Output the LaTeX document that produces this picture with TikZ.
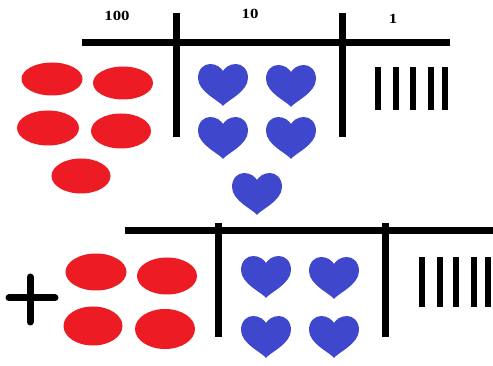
\documentclass[tikz,border=0pt]{standalone}
\usepackage{fontspec}
\setmainfont{Liberation Serif}
\definecolor{pred}{RGB}{237,28,36}
\definecolor{pblue}{RGB}{63,72,204}
\tikzset{
  x=1pt, y=-1pt,
  bar/.style={line width=7pt, black},
  tally/.style={line width=6pt, black},
  lbl/.style={font=\fontsize{14}{14}\selectfont\bfseries, inner sep=0pt, xscale=1.2},
  heart/.pic={
    \fill[pblue] (0,22) .. controls (-3,17) and (-25,8) .. (-25,-6)
      .. controls (-25,-15) and (-19,-20) .. (-13,-20)
      .. controls (-6,-20) and (-2,-16) .. (0,-13)
      .. controls (2,-16) and (6,-20) .. (13,-20)
      .. controls (19,-20) and (25,-15) .. (25,-6)
      .. controls (25,8) and (3,17) .. (0,22) -- cycle;
  },
  redel/.style={fill=pred}
}
\begin{document}
\begin{tikzpicture}
\useasboundingbox (0,0) rectangle (493,366);
\fill[white] (0,0) rectangle (493,366);
% ---------- top chart ----------
\coordinate (th1) at (82,43);
\coordinate (th2) at (450,43);
\coordinate (tv1a) at (176,13);
\coordinate (tv1b) at (176,137);
\coordinate (tv2a) at (342,13);
\coordinate (tv2b) at (342,137);
\draw[bar] (th1) -- (th2);
\draw[bar] (tv1a) -- (tv1b);
\draw[bar] (tv2a) -- (tv2b);
\node[lbl] (l100) at (117,16) {100};
\node[lbl] (l10) at (250,14) {10};
\node[lbl] (l1) at (393,19) {1};
% red ellipses
\fill[redel] (52,79) ellipse [x radius=30.5, y radius=16.5];
\fill[redel] (123,83) ellipse [x radius=30, y radius=16.5];
\fill[redel] (48,128) ellipse [x radius=31, y radius=17.5];
\fill[redel] (121,131) ellipse [x radius=30, y radius=17.5];
\fill[redel] (81,176) ellipse [x radius=29.5, y radius=17.5];
% hearts
\pic at (223,84) {heart};
\pic at (291,85) {heart};
\pic at (223,137) {heart};
\pic at (291,137) {heart};
\pic at (257,193) {heart};
% tallies
\foreach \x in {378,396,413,431,445} \draw[tally] (\x,67) -- (\x,110);
% ---------- bottom chart ----------
\coordinate (bh1) at (125,231);
\coordinate (bh2) at (493,231);
\coordinate (bv1a) at (218,223);
\coordinate (bv1b) at (218,337);
\coordinate (bv2a) at (385,223);
\coordinate (bv2b) at (385,337);
\draw[bar] (bh1) -- (bh2);
\draw[bar] (bv1a) -- (bv1b);
\draw[bar] (bv2a) -- (bv2b);
% plus
\coordinate (pl) at (9,298);
\coordinate (pr) at (55,298);
\coordinate (pt) at (30,277);
\coordinate (pb) at (30,322);
\draw[bar, line cap=round] (pl) -- (pr);
\draw[bar, line cap=round] (pt) -- (pb);
% red ellipses
\fill[redel] (96,272) ellipse [x radius=30.5, y radius=18.5];
\fill[redel] (167,276) ellipse [x radius=30, y radius=18.5];
\fill[redel] (93,326) ellipse [x radius=29.5, y radius=19.5];
\fill[redel] (165,329) ellipse [x radius=30, y radius=20];
% hearts
\pic at (266,276) {heart};
\pic at (334,277) {heart};
\pic at (266,336) {heart};
\pic at (334,336) {heart};
% tallies
\foreach \x in {422,440,456,474,488} \draw[tally] (\x,257) -- (\x,307);
\end{tikzpicture}
\end{document}
